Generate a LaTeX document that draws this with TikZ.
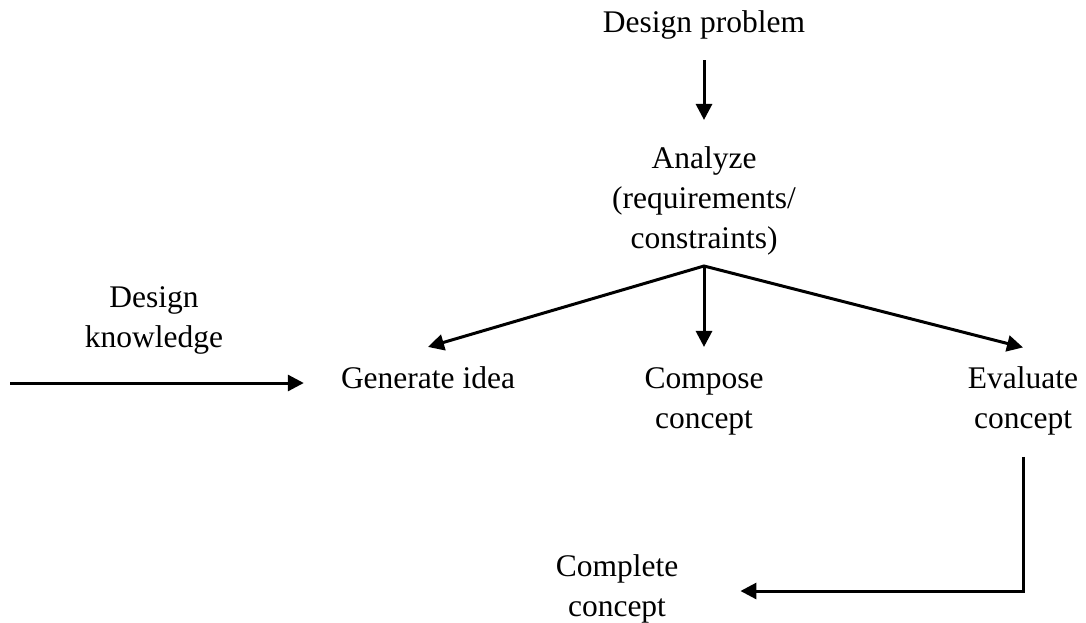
\documentclass[tikz,border=0pt]{standalone}
\usepackage{fontspec}
\setmainfont{Liberation Serif}
\usetikzlibrary{arrows.meta}
\begin{document}
\begin{tikzpicture}[x=1pt,y=-1pt,
  txt/.style={anchor=base, inner sep=0pt, align=center,
              font=\fontsize{31.5}{40}\selectfont},
  link/.style={line width=3pt},
  tip/.tip={Triangle[length=16pt,width=16pt]},
  flow/.style={link, -tip}]
\useasboundingbox (0,0) rectangle (1086,622);

% process steps (base anchor = baseline of the last line)
\node[txt] (dp) at (704,32)  {Design problem};
\node[txt] (an) at (704,248) {Analyze\\(requirements/\\constraints)};
\node[txt] (dk) at (154,347) {Design\\knowledge};
\node[txt] (gi) at (428,388) {Generate idea};
\node[txt] (cc) at (704,428) {Compose\\concept};
\node[txt] (ec) at (1023,428) {Evaluate\\concept};
\node[txt] (cp) at (617,616) {Complete\\concept};

% helper points
\coordinate (br)  at (704,266);
\coordinate (kin) at (10,383);
\coordinate (fb)  at (1023,591);

% connectors
\draw[flow] ([yshift=-21pt]dp.south) -- ([yshift=26pt]an.north);
\draw[link, tip-tip] ([yshift=19pt]gi.north) -- (br) -- ([yshift=18.5pt]ec.north);
\draw[flow] (br) -- ([yshift=20pt]cc.north);
\draw[flow, shorten >=37pt] (kin) -- (kin -| gi.west);
\draw[flow, shorten >=62pt] ([yshift=-22pt]ec.south) -- (fb) -- (fb -| cp.east);
\end{tikzpicture}
\end{document}
